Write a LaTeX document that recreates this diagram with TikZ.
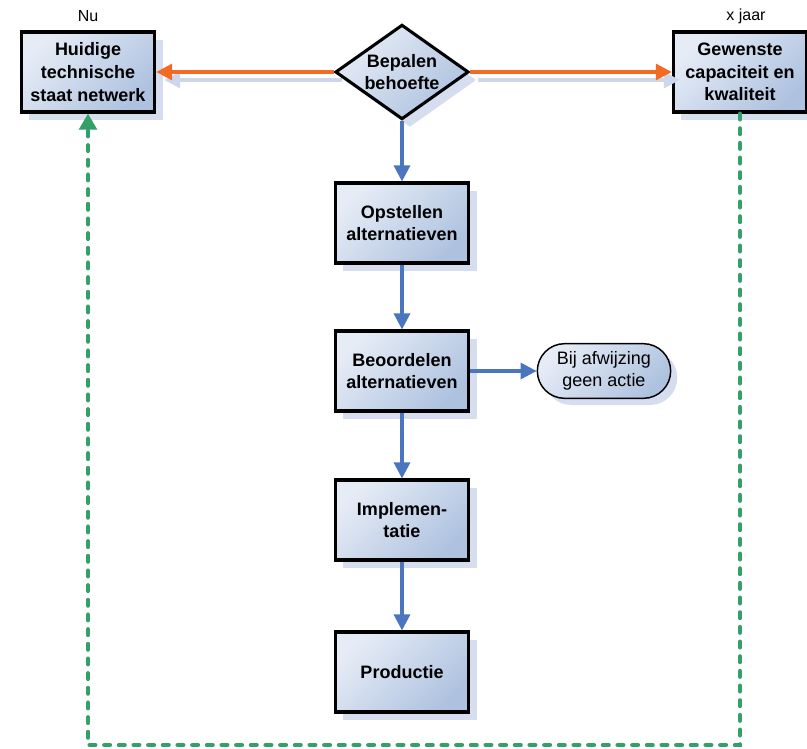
\documentclass[tikz,border=0pt]{standalone}
\usepackage{fontspec}
\setmainfont{Liberation Sans}
\usetikzlibrary{shapes.geometric,shapes.misc,shadows,arrows.meta}
\definecolor{fillA}{HTML}{E6ECF6}
\definecolor{fillB}{HTML}{AEC2DF}
\definecolor{shadowc}{HTML}{D5DDEE}
\definecolor{orangec}{HTML}{F26B25}
\definecolor{bluec}{HTML}{4A76C0}
\definecolor{greenc}{HTML}{33A06A}
\definecolor{lineshadow}{HTML}{CCD7EC}
\begin{document}
\begin{tikzpicture}[x=0.75pt,y=-0.75pt,
  boxfill/.style={top color=fillA, bottom color=fillB, shading angle=45},
  procbox/.style={rectangle, draw=black, line width=2.3pt, boxfill,
    minimum width=100pt, minimum height=60pt, inner sep=0pt, align=center,
    font=\fontsize{13.5}{17}\selectfont\bfseries,
    general shadow={fill=shadowc, shadow xshift=6pt, shadow yshift=-6pt}},
  decbox/.style={diamond, draw=black, line width=2.3pt, boxfill, aspect=1.4,
    minimum width=100pt, minimum height=71pt, inner sep=0pt, align=center,
    font=\fontsize{13.5}{17}\selectfont\bfseries,
    general shadow={fill=shadowc, shadow xshift=6pt, shadow yshift=-6pt}},
  termbox/.style={rounded rectangle, draw=black, line width=1.1pt, boxfill,
    minimum width=100pt, minimum height=41pt, inner sep=0pt, align=center,
    font=\fontsize{13.5}{17}\selectfont,
    general shadow={fill=shadowc, shadow xshift=5pt, shadow yshift=-5pt}},
  toplabel/.style={font=\fontsize{12}{14}\selectfont, inner sep=0pt},
  orangeconn/.style={draw=orangec, line width=2.3pt, -{Triangle[length=12pt,width=12pt]}},
  blueconn/.style={draw=bluec, line width=2.3pt, -{Triangle[length=12pt,width=12pt]}},
  lshadow/.style={draw=lineshadow, line width=2.3pt, -{Triangle[length=12pt,width=12pt]}},
  greenconn/.style={draw=greenc, line width=3pt, line cap=round, dash pattern=on 4.5pt off 6.5pt,
    -{Triangle[length=12pt,width=13pt]}}
]
\useasboundingbox (0,0) rectangle (807,749);

% nodes
\node[procbox] (hui) at (88,72) {Huidige\\technische\\staat netwerk};
\node[decbox] (bep) at (402,72) {Bepalen\\behoefte};
\node[procbox] (gew) at (740,72) {Gewenste\\capaciteit en\\kwaliteit};
\node[procbox] (ops) at (402,223) {Opstellen\\alternatieven};
\node[procbox] (beo) at (402,371) {Beoordelen\\alternatieven};
\node[termbox] (bij) at (604,371) {Bij afwijzing\\geen actie};
\node[procbox] (imp) at (402,520) {Implemen-\\tatie};
\node[procbox] (pro) at (402,672) {Productie};

\node[toplabel] (nu) at (88,16) {Nu};
\node[toplabel] (xj) at (746,16) {x jaar};

% connector shadows
\draw[lshadow, transform canvas={shift={(6pt,-6pt)}}] (bep.west) -- (hui.east);
\draw[lshadow, transform canvas={shift={(6pt,-6pt)}}] (bep.east) -- (gew.west);

% connectors
\draw[orangeconn] (bep.west) -- (hui.east);
\draw[orangeconn] (bep.east) -- (gew.west);
\draw[blueconn] (bep.south) -- (ops.north);
\draw[blueconn] (ops.south) -- (beo.north);
\draw[blueconn] (beo.east) -- (bij.west);
\draw[blueconn] (beo.south) -- (imp.north);
\draw[blueconn] (imp.south) -- (pro.north);

\coordinate (gr) at (740,745);
\coordinate (gl) at (88,745);
\draw[greenconn] (gew.south) -- (gr) -- (gl) -- (hui.south);
\end{tikzpicture}
\end{document}
